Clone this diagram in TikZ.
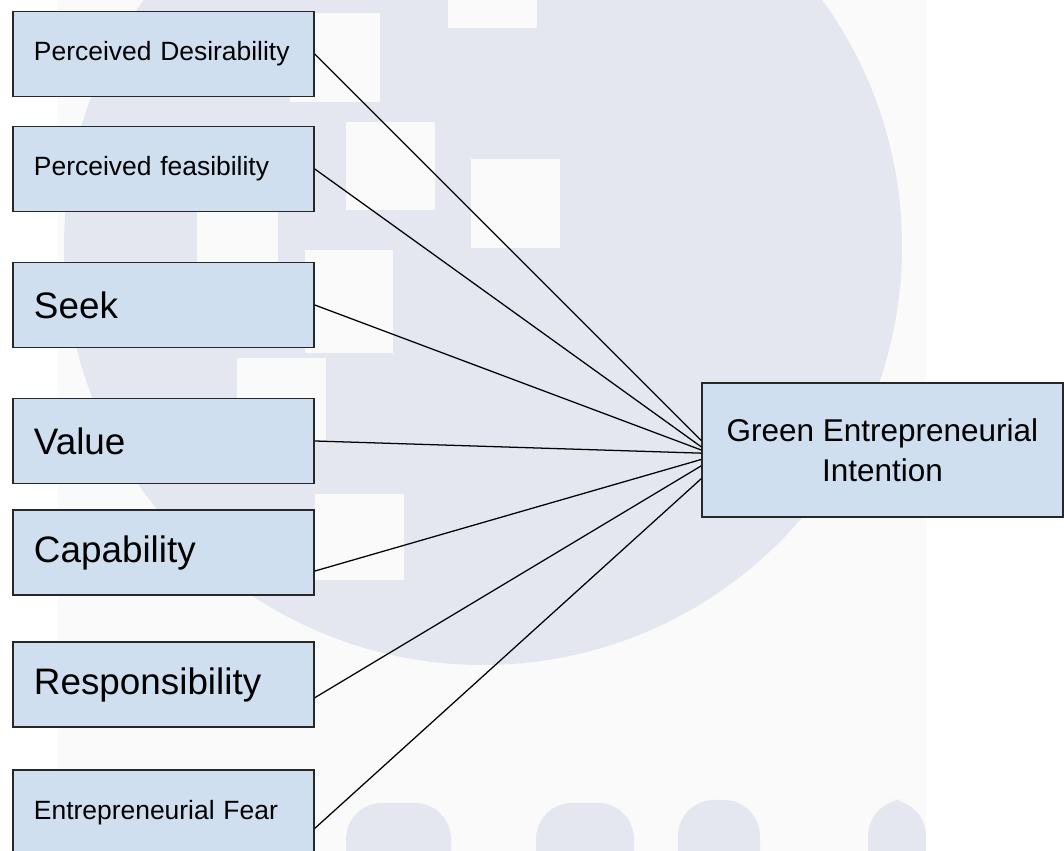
\documentclass[tikz,border=0pt]{standalone}
\usepackage{fontspec}
\setmainfont{Liberation Sans}
\definecolor{BoxClr}{RGB}{207,223,240}
\definecolor{EdgeClr}{RGB}{40,40,40}
\definecolor{LogoClr}{RGB}{228,231,239}
\definecolor{PaperClr}{RGB}{250,250,250}

\begin{document}
\begin{tikzpicture}[
  factor/.style={rectangle,draw=EdgeClr,line width=1.1pt,fill=BoxClr,
    minimum width=7.525cm,minimum height=2.125cm,
    text width=6.475cm,inner xsep=0.525cm,align=left},
  small/.style={font=\fontsize{18.8}{22}\selectfont},
  big/.style={font=\fontsize{26.2}{30}\selectfont},
  link/.style={line width=0.9pt}
]
\useasboundingbox (0,0) rectangle (26.6,21.275);

% faint logo in the background
\fill[PaperClr] (1.45,0) rectangle (23.15,21.275);
\fill[LogoClr] (12.075,15.125) circle (10.475);
\foreach \xa/\ya/\xb/\yb in {11.2/21.4/13.425/20.575, 7.25/20.95/9.5/18.725,
    8.65/18.225/10.875/16.025, 11.775/17.3/14.0/15.075, 7.625/15.025/9.825/12.45,
    5.925/12.325/8.15/10.275, 7.875/8.925/10.1/6.775, 4.925/16.275/6.95/14.025}
  \fill[PaperClr] (\xa,\ya) rectangle (\xb,\yb);
\foreach \xa/\xb/\yb in {8.65/11.275/1.2, 13.4/15.85/1.2, 16.95/19.0/1.275, 21.7/23.15/1.275}
  \fill[LogoClr,rounded corners=0.9cm] (\xa,-1.5) rectangle (\xb,\yb);

% factors
\node[factor,small] (pd) at (4.0875,19.925) {Perceived Desirability};
\node[factor,small] (pf) at (4.0875,17.05) {Perceived feasibility};
\node[factor,big] (seek) at (4.0875,13.65) {Seek};
\node[factor,big] (value) at (4.0875,10.25) {Value};
\node[factor,big] (cap) at (4.0875,7.4625) {Capability};
\node[factor,big] (resp) at (4.0875,4.1625) {Responsibility};
\node[factor,small] (fear) at (4.0875,0.9625) {Entrepreneurial Fear};

% outcome
\node[rectangle,draw=EdgeClr,line width=1.1pt,fill=BoxClr,
  minimum width=9.025cm,minimum height=3.35cm,align=center,
  font=\fontsize{22.4}{28.5}\selectfont] (gei) at (22.0625,10.025)
  {Green Entrepreneurial\\Intention};

\draw[link] (pd.east) -- (gei.177.5);
\draw[link] (pf.east) -- (gei.179);
\draw[link] (seek.east) -- (gei.west);
\draw[link] (value.east) -- (gei.181);
\draw[link] (cap.-7.6) -- (gei.183.2);
\draw[link] (resp.-5.9) -- (gei.185.7);
\draw[link] (fear.-6.6) -- (gei.189.1);

\end{tikzpicture}
\end{document}
